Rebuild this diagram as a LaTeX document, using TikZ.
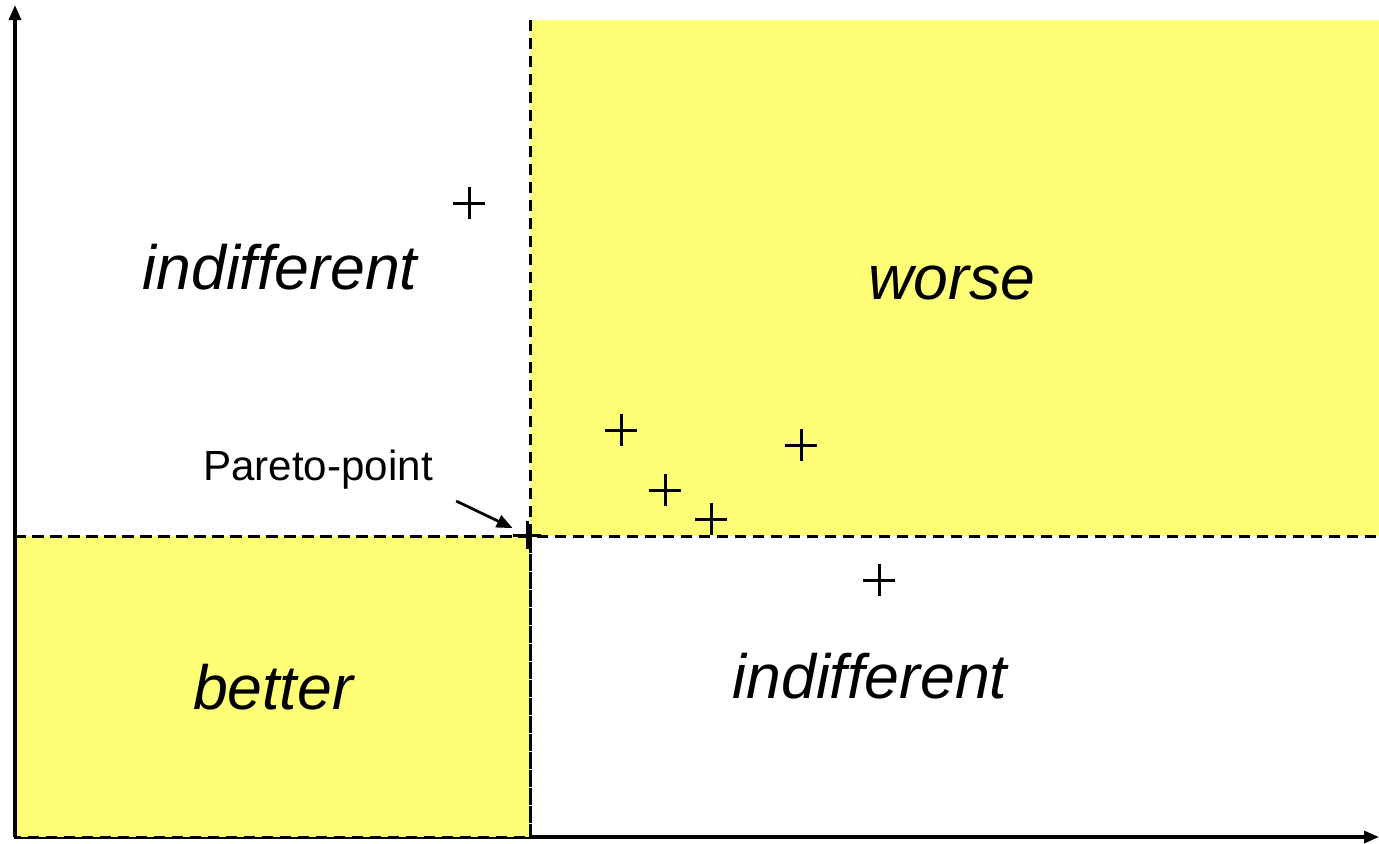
\documentclass[tikz,border=0pt]{standalone}
\usepackage{fontspec}
\setmainfont{Liberation Sans}
\usetikzlibrary{arrows.meta}
\definecolor{paleyellow}{HTML}{FFFF77}

\begin{document}
\begin{tikzpicture}[x=0.02cm, y=-0.02cm,
    region/.style={font=\itshape\fontsize{35.6}{40}\selectfont, inner sep=0pt},
    border/.style={dash pattern=on 0.22cm off 0.14cm, line width=0.06cm},
    sample/.style={inner sep=0pt, minimum size=0.64cm, path picture={
        \draw[line width=0.06cm] (path picture bounding box.north) -- (path picture bounding box.south)
          (path picture bounding box.west) -- (path picture bounding box.east);}}]
  \useasboundingbox (0,0) rectangle (1379,843);

  % Regions
  \fill[paleyellow] (530,20) rectangle (1379,536);
  \draw[line width=0.065cm, -{Triangle[length=0.3cm, width=0.24cm]}] (15,837) -- (1379,837);
  \draw[fill=paleyellow, border] (530,536) rectangle (15,837);
  \draw[line width=0.065cm, -{Triangle[length=0.3cm, width=0.24cm]}] (15,837) -- (15,5);
  \draw[border] (530,20) -- (530,837);
  \draw[border] (15,536) -- (1379,536);

  % Labels
  \node[region] (ind1) at (280,267) {indifferent};
  \node[region] (worse) at (952,283) {worse};
  \node[region] (better) at (273,687) {better};
  \node[region] (ind2) at (870,676) {indifferent};

  % Points
  \node[sample] (p1) at (469,203) {};
  \node[sample] (p2) at (621,430) {};
  \node[sample] (p3) at (665,490) {};
  \node[sample] (p4) at (711,519) {};
  \node[sample] (p5) at (801,445) {};
  \node[sample] (p6) at (879,580) {};
  \node[sample, minimum size=0.56cm] (pp) at (527,535) {};

  \node[font=\fontsize{24}{28}\selectfont, inner sep=0pt] (ppl) at (318,470) {Pareto-point};
  \draw[line width=0.055cm, -{Triangle[length=0.32cm, width=0.26cm]}] (ppl.south east) ++(23,11) -- (pp);
\end{tikzpicture}
\end{document}
